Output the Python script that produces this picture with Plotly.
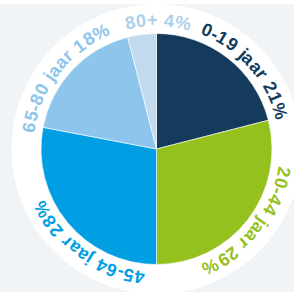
import math
import plotly.graph_objects as go

# ---- data ----
labels = ["0-19 jaar", "20-44 jaar", "45-64 jaar", "65-80 jaar", "80+"]
values = [21, 29, 28, 18, 4]
label_texts = ["0-19 jaar 21%", "20-44 jaar 29%", "45-64 jaar 28%", "65-80 jaar 18%", "80+ 4%"]

# ---- style ----
colors = ["#143a5c", "#95c11f", "#009fe3", "#8dc5ec", "#c2daee"]
text_colors = ["#143a5c", "#95c11f", "#009fe3", "#8dc5ec", "#acd0ea"]
label_offsets = [10.0, 0.0, -15.5, -6.0, 7.2]  # degrees, label shift from slice middle

W, H = 296, 292
CX, CY = 156.5, 149.0
R_PIE = 115.5
R_WHITE = 145
R_CHAR = 129.0
FS = 18
R_ADV = 116.0

# Arial Bold / Liberation Sans Bold advance widths (em)
ADV = {d: 0.556 for d in "0123456789"}
ADV.update({"-": 0.333, "+": 0.584, " ": 0.278, "j": 0.278, "a": 0.556, "r": 0.389, "%": 0.889})

fig = go.Figure()
fig.add_trace(go.Pie(
    labels=labels, values=values, sort=False, direction="clockwise", rotation=0,
    marker=dict(colors=colors, line=dict(color="white", width=0.6)),
    textinfo="none", hoverinfo="label+percent", showlegend=False,
    domain=dict(x=[(CX - R_PIE) / W, (CX + R_PIE) / W],
                y=[(H - CY - R_PIE) / H, (H - CY + R_PIE) / H]),
))

total = sum(values)
annotations = []
cum = 0
for i, txt in enumerate(label_texts):
    mid = (cum + values[i] / 2) / total * 360
    cum += values[i]
    center = mid + label_offsets[i]
    widths = [ADV.get(c, 0.556) * FS for c in txt]
    pos = []
    acc = 0
    for w in widths:
        pos.append(acc + w / 2)
        acc += w
    mid_pos = (pos[0] + pos[-1]) / 2
    for c, p in zip(txt, pos):
        if c == " ":
            continue
        ang = center + math.degrees((p - mid_pos) / R_ADV)
        a = math.radians(ang)
        px = CX + R_CHAR * math.sin(a)
        py = CY - R_CHAR * math.cos(a)
        ta = ((ang + 180) % 360) - 180
        annotations.append(dict(
            x=px / W, y=1 - py / H, xref="paper", yref="paper",
            text="<b>" + c + "</b>", showarrow=False, textangle=ta,
            xanchor="center", yanchor="middle",
            font=dict(family="Liberation Sans, Arial", size=FS, color=text_colors[i]),
        ))

shapes = [
    dict(type="rect", xref="paper", yref="paper", x0=0, x1=294 / W, y0=0, y1=1 - 4 / H,
         fillcolor="#f1f4f6", line=dict(width=0), layer="below"),
    dict(type="circle", xref="paper", yref="paper",
         x0=(CX - R_WHITE) / W, x1=(CX + R_WHITE) / W,
         y0=1 - (CY + R_WHITE) / H, y1=1 - (CY - R_WHITE) / H,
         fillcolor="white", line=dict(width=0), layer="below"),
]

fig.update_layout(
    width=W, height=H, autosize=False,
    margin=dict(l=0, r=0, t=0, b=0),
    paper_bgcolor="white", plot_bgcolor="white",
    annotations=annotations, shapes=shapes,
)
fig.write_html(
    "out.html",
    config={"displayModeBar": False},
    post_script="document.body.style.margin='0';document.body.style.overflow='hidden';",
)
